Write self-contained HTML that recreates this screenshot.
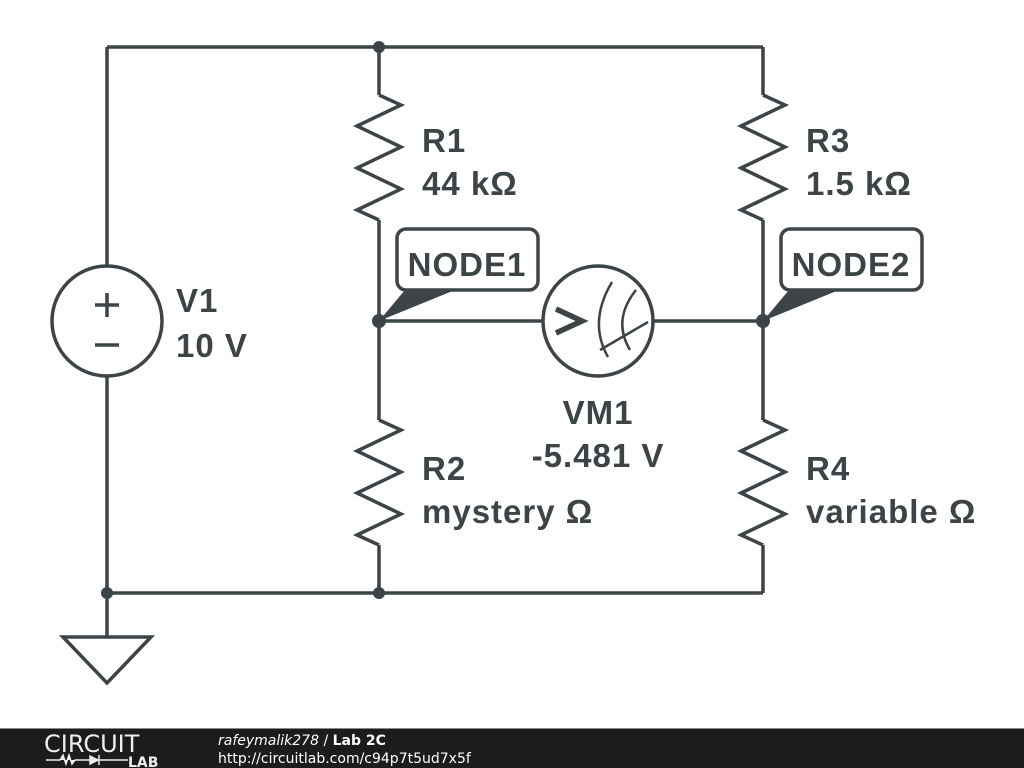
<!DOCTYPE html>
<html><head><meta charset="utf-8"><style>
body{margin:0;width:1024px;height:768px;overflow:hidden;background:#fff;}
svg{display:block}
text{font-family:"Liberation Sans",Arial,sans-serif;font-weight:bold;fill:#3c4448;letter-spacing:1px}
text.f{font-family:"DejaVu Sans",sans-serif;letter-spacing:0}
</style></head><body>
<svg width="1024" height="768" viewBox="0 0 1024 768">
<g stroke="#3c4448" stroke-width="3.5" fill="none" stroke-linejoin="miter">
<path d="M107 47H763M107 47V266M107 376V637M107 593H763M379 47V95M379 220V420M379 545V593M763 47V95M763 220V420M763 545V593M379 321H543M653 321H763"/>
<path d="M379 95 L401 105 L357 126 L401 147 L357 168 L401 189 L357 210 L379 220"/>
<path d="M763 95 L785 105 L741 126 L785 147 L741 168 L785 189 L741 210 L763 220"/>
<path d="M379 420 L401 430 L357 451 L401 472 L357 493 L401 514 L357 535 L379 545"/>
<path d="M763 420 L785 430 L741 451 L785 472 L741 493 L785 514 L741 535 L763 545"/>
<circle cx="107" cy="321" r="55"/>
<path d="M95 305H119M107 293V317M95 345H119"/>
<path d="M63 637H151L107 683Z"/>
<circle cx="598" cy="321" r="55"/>
<path d="M556 309L582 321L556 333" stroke-width="5.5"/>
<path d="M612 282 Q588 322 608 357M636 290 Q612 320 630 350M600 350L648 322" stroke-width="2.5"/>
<rect x="397" y="229" width="141" height="61" rx="9"/>
<rect x="781" y="229" width="141" height="61" rx="9"/>
</g>
<g fill="#3c4448">
<circle cx="379" cy="47" r="6"/><circle cx="107" cy="593" r="6"/><circle cx="379" cy="593" r="6"/>
<circle cx="379" cy="321" r="7"/><circle cx="763" cy="321" r="7"/>
<path d="M379 321L405 290H455Z"/><path d="M763 321L789 290H839Z"/>
</g>
<g font-size="33">
<text x="422" y="152">R1</text><text x="422" y="195">44 kΩ</text>
<text x="806" y="152">R3</text><text x="806" y="195">1.5 kΩ</text>
<text x="176" y="312">V1</text><text x="176" y="357">10 V</text>
<text x="422" y="480">R2</text><text x="422" y="523">mystery Ω</text>
<text x="806" y="480">R4</text><text x="806" y="523">variable Ω</text>
<text x="598" y="424" text-anchor="middle">VM1</text><text x="598" y="467" text-anchor="middle">-5.481 V</text>
<text x="467" y="276" text-anchor="middle">NODE1</text><text x="851" y="276" text-anchor="middle">NODE2</text>
</g>
<rect x="0" y="729" width="1024" height="39" fill="#1c1c1c"/>
<rect x="0" y="728" width="1024" height="1" fill="#888"/>
<text class="f" x="44" y="752" font-size="24" style="font-weight:normal;fill:#eee">CIRCUIT</text>
<path d="M46 760H60L63 755L66 764L69 755L72 764L75 760H90M90 756L98 760L90 764ZM99 755V765M99 760H128" stroke="#eee" stroke-width="1.5" fill="#eee"/>
<text class="f" x="128" y="767" font-size="14" style="fill:#eee">LAB</text>
<text class="f" x="218" y="745" font-size="14" style="font-weight:normal;font-style:italic;fill:#fff">rafeymalik278 <tspan style="font-style:normal">/</tspan> <tspan style="font-weight:bold;font-style:normal">Lab 2C</tspan></text>
<text class="f" x="218" y="763" font-size="14" style="font-weight:normal;fill:#fff">http://circuitlab.com/c94p7t5ud7x5f</text>
</svg>
</body></html>
